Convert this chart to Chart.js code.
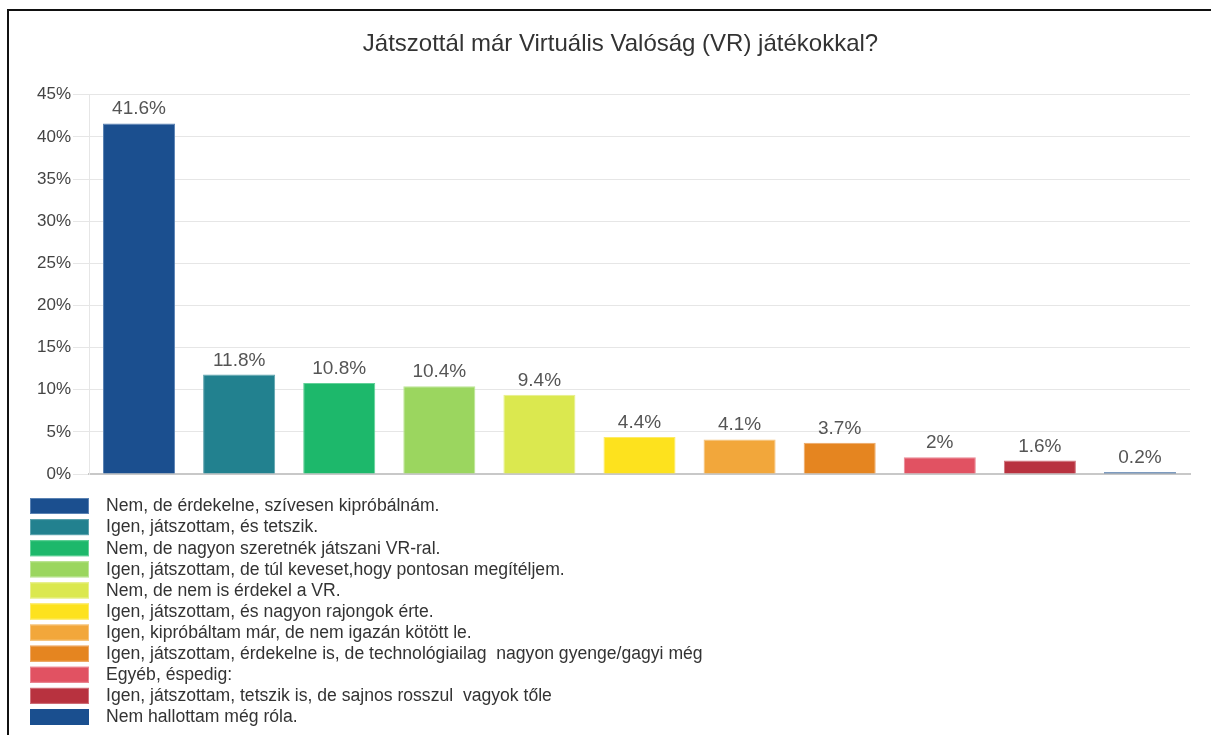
<!DOCTYPE html>
<html>
<head>
<meta charset="utf-8">
<script src="https://cdn.jsdelivr.net/npm/chart.js@4"></script>
<style>
  html, body { margin: 0; padding: 0; background: #fff; overflow: hidden; }
  #wrap { position: relative; width: 1211px; height: 735px; }
  #frame {
    position: absolute; left: 7px; top: 9px; width: 1300px; height: 800px;
    border: 2px solid #111; pointer-events: none;
  }
</style>
</head>
<body>
<div id="wrap">
  <canvas id="vrChart" width="1211" height="735"></canvas>
  <div id="frame"></div>
</div>
<script>
const answers = [
  'Nem, de érdekelne, szívesen kipróbálnám.',
  'Igen, játszottam, és tetszik.',
  'Nem, de nagyon szeretnék játszani VR-ral.',
  'Igen, játszottam, de túl keveset,hogy pontosan megítéljem.',
  'Nem, de nem is érdekel a VR.',
  'Igen, játszottam, és nagyon rajongok érte.',
  'Igen, kipróbáltam már, de nem igazán kötött le.',
  'Igen, játszottam, érdekelne is, de technológiailag  nagyon gyenge/gagyi még',
  'Egyéb, éspedig:',
  'Igen, játszottam, tetszik is, de sajnos rosszul  vagyok tőle',
  'Nem hallottam még róla.'
];
const percents = [41.6, 11.8, 10.8, 10.4, 9.4, 4.4, 4.1, 3.7, 2, 1.6, 0.2];
const fills = ['#1b4f8f', '#22818f', '#1db86b', '#9bd65f', '#dbe84f', '#fde21e',
               '#f2a73b', '#e58520', '#e15262', '#b8323f', '#1a4f8f'];
const edges = ['#5a82b3', '#5ea3ae', '#62d198', '#bce596', '#e8f08a', '#fdeb66',
               '#f6c27a', '#eda866', '#ea8794', '#cf707a', '#1a4f8f'];
const yTicks = [0, 5, 10, 15, 20, 25, 30, 35, 40, 45];

const FONT = '"Liberation Sans", Arial, sans-serif';

// numbers printed above each bar
const valueLabels = {
  id: 'valueLabels',
  afterDatasetsDraw(chart) {
    const ctx = chart.ctx;
    const meta = chart.getDatasetMeta(0);
    ctx.save();
    ctx.font = '19px ' + FONT;
    ctx.fillStyle = '#555';
    ctx.textAlign = 'center';
    ctx.textBaseline = 'alphabetic';
    meta.data.forEach((bar, i) => {
      ctx.fillText(percents[i] + '%', bar.x, bar.y - 9);
    });
    ctx.restore();
  }
};

// one-column legend under the plot
const columnLegend = {
  id: 'columnLegend',
  afterDraw(chart) {
    const ctx = chart.ctx;
    const top = chart.chartArea.bottom + 24;
    ctx.save();
    ctx.font = '17.6px ' + FONT;
    ctx.textBaseline = 'middle';
    answers.forEach((text, i) => {
      const y = top + i * 21.1;
      ctx.fillStyle = fills[i];
      ctx.fillRect(30, y, 59, 16);
      ctx.strokeStyle = edges[i];
      ctx.lineWidth = 1;
      ctx.strokeRect(30.5, y + 0.5, 58, 15);
      ctx.fillStyle = '#333';
      ctx.fillText(text, 106, y + 8.5);
    });
    ctx.restore();
  }
};

new Chart(document.getElementById('vrChart'), {
  type: 'bar',
  data: {
    labels: answers,
    datasets: [{
      data: percents,
      backgroundColor: fills,
      borderColor: edges,
      borderWidth: 1,
      categoryPercentage: 1,
      barPercentage: 0.72
    }]
  },
  options: {
    responsive: false,
    animation: false,
    layout: { padding: { left: 30, right: 0, top: 0, bottom: 253 } },
    plugins: {
      legend: { display: false },
      tooltip: { enabled: false },
      title: {
        display: true,
        text: 'Játszottál már Virtuális Valóság (VR) játékokkal?',
        color: '#333',
        font: { family: FONT, size: 24, weight: 'normal' },
        padding: { top: 30, bottom: 36 }
      }
    },
    scales: {
      x: {
        ticks: { display: false },
        grid: { display: false },
        border: { display: true, color: '#c8c8c8', width: 2 }
      },
      y: {
        min: 0,
        max: 45,
        afterBuildTicks: s => { s.ticks = yTicks.map(v => ({ value: v })); },
        afterFit: s => { s.width = 59; },
        ticks: {
          color: '#444',
          padding: 2,
          font: { family: FONT, size: 17 },
          callback: v => v + '%'
        },
        grid: { color: '#e6e6e6', tickLength: 16 },
        border: { display: true, color: '#e6e6e6' }
      },
      // empty strip on the right, keeps the plot clear of the edge
      gutter: {
        position: 'right',
        min: 0,
        max: 45,
        afterFit: s => { s.width = 21; },
        ticks: { display: false },
        grid: { display: false },
        border: { display: false }
      }
    }
  },
  plugins: [valueLabels, columnLegend]
});
</script>
</body>
</html>
